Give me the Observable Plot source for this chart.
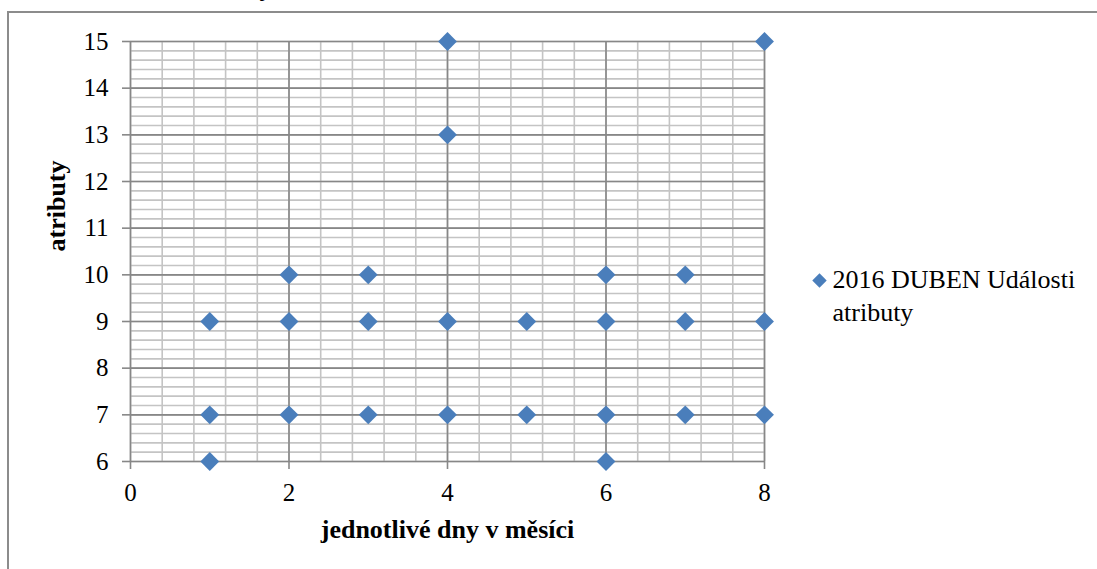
<!DOCTYPE html>
<html>
<head>
<meta charset="utf-8">
<script src="https://cdn.jsdelivr.net/npm/d3@7"></script>
<script src="https://cdn.jsdelivr.net/npm/@observablehq/plot@0.6"></script>
<style>
  html, body { margin: 0; padding: 0; background: #fff; }
  #wrap { position: relative; width: 1097px; height: 569px; overflow: hidden; }
  #frame { position: absolute; left: 7px; top: 11px; width: 1200px; height: 700px;
           border-left: 2px solid #8c8c8c; border-top: 2px solid #8c8c8c; pointer-events: none; }
  svg { display: block; overflow: visible; }
</style>
</head>
<body>
<div id="wrap"><div id="frame"></div></div>
<script>
// Data
const days  = [1, 1, 1, 2, 2, 2, 3, 3, 3, 4, 4, 4, 4, 5, 5, 6, 6, 6, 6, 7, 7, 7, 8, 8, 8];
const attrs = [9, 7, 6, 10, 9, 7, 10, 9, 7, 15, 13, 9, 7, 9, 7, 10, 9, 7, 6, 10, 9, 7, 15, 9, 7];
const xTicks = [0, 2, 4, 6, 8];
const yTicks = [6, 7, 8, 9, 10, 11, 12, 13, 14, 15];
const seriesName = "2016 DUBEN Události\natributy";
const xTitle = "jednotlivé dny v měsíci";
const yTitle = "atributy";
const chartTitle = "atributy";

const data = days.map((d, i) => ({day: d, attr: attrs[i]}));

const serif = "Liberation Serif, Times New Roman, serif";
const minorColor = "#c4c4c4";
const majorColor = "#878787";
const blue = "#4a7ebb";

const chart = Plot.plot({
  width: 1097,
  height: 569,
  marginLeft: 130,
  marginRight: 333,
  marginTop: 41,
  marginBottom: 108,
  x: {domain: [0, 8]},
  y: {domain: [6, 15]},
  style: {fontFamily: serif, fontSize: "25px", color: "#000", background: "transparent"},
  marks: [
    Plot.gridX({interval: 0.4, stroke: minorColor, strokeOpacity: 1, strokeWidth: 1.6}),
    Plot.gridY({interval: 0.2, stroke: minorColor, strokeOpacity: 1, strokeWidth: 1.6}),
    Plot.gridX(xTicks, {stroke: majorColor, strokeOpacity: 1, strokeWidth: 1.6}),
    Plot.gridY(yTicks, {stroke: majorColor, strokeOpacity: 1, strokeWidth: 1.6}),
    Plot.axisX(xTicks, {tickSize: 8, tickPadding: 14, stroke: majorColor, strokeWidth: 1.6, label: null, fontSize: 25, fontFamily: serif, tickFormat: d => String(d)}),
    Plot.axisY(yTicks, {tickSize: 8, tickPadding: 14, stroke: majorColor, strokeWidth: 1.6, label: null, fontSize: 25, fontFamily: serif, tickFormat: d => String(d)}),
    Plot.dot(data, {x: "day", y: "attr", symbol: "diamond2", r: 8.5, fill: blue, stroke: "none"}),
    // axis titles
    Plot.text([xTitle], {frameAnchor: "bottom", dy: 76, fontWeight: "bold", fontSize: 26, fontFamily: serif, fill: "#000"}),
    Plot.text([yTitle], {frameAnchor: "left", dx: -74, rotate: -90, fontWeight: "bold", fontSize: 26, fontFamily: serif, fill: "#000"}),
    // cut-off chart title at the very top (only its descender is visible in the reference)
    Plot.text([chartTitle], {frameAnchor: "top", dx: -175, dy: -46, textAnchor: "end", lineAnchor: "bottom", fontWeight: "bold", fontSize: 26, fontFamily: serif, fill: "#000"}),
    // legend
    Plot.dot([seriesName], {frameAnchor: "right", dx: 55, dy: 29, symbol: "diamond2", r: 6.5, fill: blue, stroke: "none"}),
    Plot.text([seriesName], {frameAnchor: "right", dx: 68, dy: 42, textAnchor: "start", lineAnchor: "middle", lineHeight: 1.27, fontSize: 26, fontFamily: serif, fill: "#000"})
  ]
});

document.getElementById("wrap").appendChild(chart);
</script>
</body>
</html>
